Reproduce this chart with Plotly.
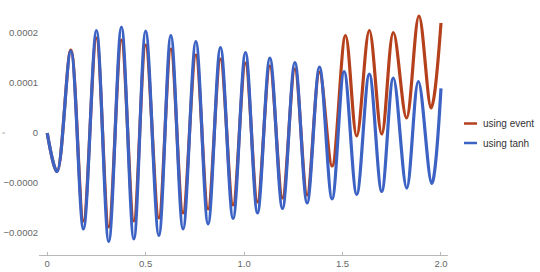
import plotly.graph_objects as go

# Extrema (time, value)
t_blue = [0.0, 0.05, 0.12, 0.184, 0.25, 0.3125, 0.377, 0.44, 0.50, 0.567, 0.628,
          0.69, 0.755, 0.817, 0.88, 0.944, 1.007, 1.068, 1.131, 1.195, 1.258,
          1.32, 1.383, 1.447, 1.508, 1.572, 1.636, 1.699, 1.758, 1.826, 1.885,
          1.953, 2.0]
v_blue = [0.0, -0.0000770, 0.000164, -0.000192, 0.000205, -0.000217, 0.000212,
          -0.000212, 0.000204, -0.000205, 0.000195, -0.000192, 0.000183,
          -0.000182, 0.000171, -0.000171, 0.000161, -0.000160, 0.000150,
          -0.000151, 0.000141, -0.000140, 0.000132, -0.000132, 0.000123,
          -0.000123, 0.000118, -0.000117, 0.000110, -0.000110, 0.000103,
          -0.000101, 0.0000894]

t_red = [0.0, 0.05, 0.12, 0.184, 0.25, 0.3125, 0.377, 0.44, 0.50, 0.567, 0.628,
         0.69, 0.755, 0.817, 0.88, 0.944, 1.007, 1.068, 1.131, 1.195, 1.258,
         1.32, 1.383, 1.447, 1.515, 1.572, 1.636, 1.699, 1.758, 1.825, 1.888,
         1.95, 2.0]
v_red = [0.0, -0.0000770, 0.000166, -0.000176, 0.000190, -0.000188, 0.000186,
         -0.000176, 0.000176, -0.000170, 0.000168, -0.000160, 0.000156,
         -0.000152, 0.000148, -0.000144, 0.000140, -0.000138, 0.000134,
         -0.000130, 0.000128, -0.000124, 0.000122, -0.0000660, 0.000195,
         -0.0000060, 0.000205, -0.0000020, 0.000201, 0.0000300, 0.000234,
         0.0000500, 0.000220]

x_tickvals = [0, 0.5, 1.0, 1.5, 2.0]
x_ticktext = ["0", "0.5", "1.0", "1.5", "2.0"]
y_tickvals = [0.0002, 0.0001, 0, -0.0001, -0.0002]
y_ticktext = ["0.0002", "0.0001", "0", "\u22120.0000", "\u22120.0002"]

series_names = ["using event", "using tanh"]
RED = "#b5411c"
BLUE = "#3c62c4"
FONT = "Liberation Sans, Arial, sans-serif"

fig = go.Figure()
fig.add_trace(go.Scatter(x=t_red, y=v_red, mode="lines", name=series_names[0],
                         line=dict(color=RED, width=3.2, shape="spline", smoothing=1.0)))
fig.add_trace(go.Scatter(x=t_blue, y=v_blue, mode="lines", name=series_names[1],
                         line=dict(color=BLUE, width=3.2, shape="spline", smoothing=1.0)))

L, R, T, B = 39, 92, 10, 17
W, H = 540, 272
pw, ph = W - L - R, H - T - B

def px_x(p):
    return (p - L) / pw

def px_y(p):
    return (H - B - p) / ph

shapes = []
annotations = []
for name, col, py in [(series_names[0], RED, 123.5), (series_names[1], BLUE, 143)]:
    shapes.append(dict(type="line", xref="paper", yref="paper",
                       x0=px_x(464), x1=px_x(477), y0=px_y(py), y1=px_y(py),
                       line=dict(color=col, width=2.5)))
    annotations.append(dict(xref="paper", yref="paper", x=px_x(481), y=px_y(py),
                            xanchor="left", yanchor="middle", text=name,
                            showarrow=False, font=dict(family=FONT, size=10, color="#333333")))
annotations.append(dict(xref="paper", yref="paper", x=px_x(0), y=px_y(133),
                        xanchor="left", yanchor="middle", text="\u2248",
                        showarrow=False, font=dict(family=FONT, size=6, color="#aaaaaa")))

fig.update_layout(
    width=W, height=H, autosize=False,
    margin=dict(l=L, r=R, t=T, b=B, pad=0, autoexpand=False),
    paper_bgcolor="white", plot_bgcolor="white",
    showlegend=False,
    shapes=shapes, annotations=annotations,
    font=dict(family=FONT, size=9.5, color="#666666"),
    xaxis=dict(range=[-0.0417, 2.0356], tickvals=x_tickvals, ticktext=x_ticktext,
               showline=True, linecolor="#b8b8b8", linewidth=1,
               ticks="inside", ticklen=3, tickcolor="#b8b8b8",
               showgrid=False, zeroline=False, automargin=False,
               tickfont=dict(family=FONT, size=9.5, color="#666666")),
    yaxis=dict(range=[-0.000244, 0.000246], tickvals=y_tickvals, ticktext=y_ticktext,
               showline=False, ticks="", showgrid=False, zeroline=False, automargin=False,
               tickfont=dict(family=FONT, size=9.5, color="#666666")),
)

fig.write_html("out.html")
